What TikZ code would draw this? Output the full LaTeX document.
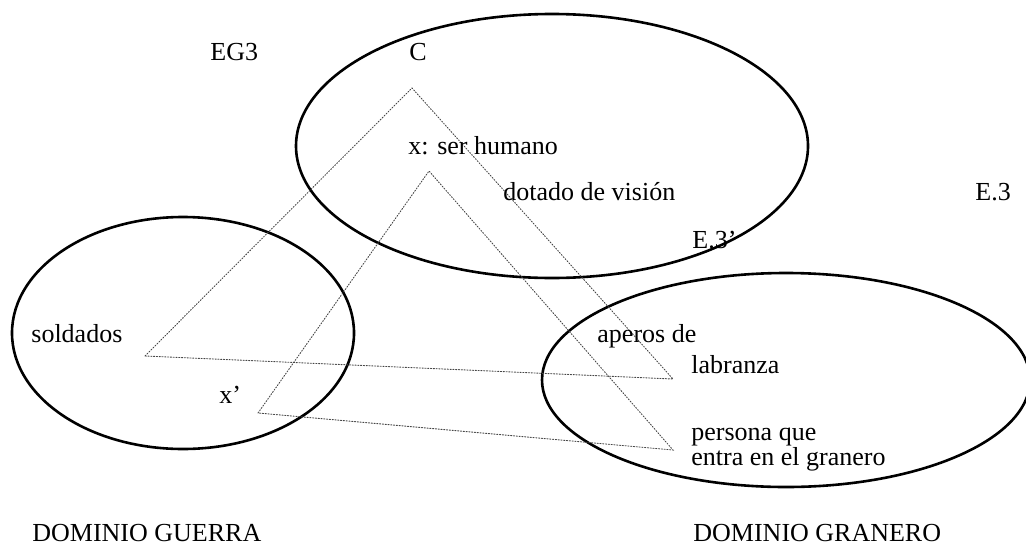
\documentclass[tikz,border=0pt]{standalone}
\usepackage{fontspec}
\setmainfont{Liberation Serif}
\usepackage{tikz}
\usetikzlibrary{calc,positioning}
\definecolor{trazo}{RGB}{0,0,0}
\definecolor{proyeccion}{RGB}{70,70,70}

\begin{document}
\begin{tikzpicture}[x=0.5pt,y=-0.5pt,line cap=round,
  dominio/.style={trazo,line width=1.3pt},
  proy/.style={proyeccion,line width=0.45pt,dash pattern=on 0.6pt off 0.8pt},
  rotulo/.style={anchor=base west,inner sep=0pt,font=\fontsize{13}{15.6}\selectfont}]
 \useasboundingbox (0,0) rectangle (1026,546);
 % espacios mentales
 \draw[dominio] (552,146) ellipse [x radius=256,y radius=132];
 \draw[dominio] (183,333) ellipse [x radius=171,y radius=116];
 \draw[dominio] (786,380) ellipse [x radius=244,y radius=107];
 % vertices de las proyecciones
 \coordinate (ap1) at (412,88);
 \coordinate (sold) at (145,356);
 \coordinate (lab) at (673,379);
 \coordinate (ap2) at (429,171);
 \coordinate (xp) at (258,413);
 \coordinate (pers) at (673,450);
 \draw[proy] (sold)--(ap1)--(lab)--(sold);
 \draw[proy] (xp)--(ap2)--(pers)--(xp);
 % rotulos
 \node[rotulo] (eg) at (210,60) {EG3};
 \node[rotulo] (gen) at (409,60) {C};
 \node[rotulo] (ser) at (408,154) {x: ser humano};
 \node[rotulo] (vis) at (503,200) {dotado de visión};
 \node[rotulo] (emer) at (975,200) {E.3};
 \node[rotulo] (emerp) at (692,248) {E.3’};
 \node[rotulo] (soldl) at (31,342) {soldados};
 \node[rotulo] (xpl) at (219,403) {x’};
 \node[rotulo] (aper) at (597,342) {aperos de};
 \node[rotulo] (labl) at (691,373) {labranza};
 \node[rotulo] (persl) at (691,440) {persona que};
 \node[rotulo] (entra) at (691,465) {entra en el granero};
 \node[rotulo] (guerra) at (32,541) {DOMINIO GUERRA};
 \node[rotulo] (granero) at (693,541) {DOMINIO GRANERO};
\end{tikzpicture}
\end{document}
